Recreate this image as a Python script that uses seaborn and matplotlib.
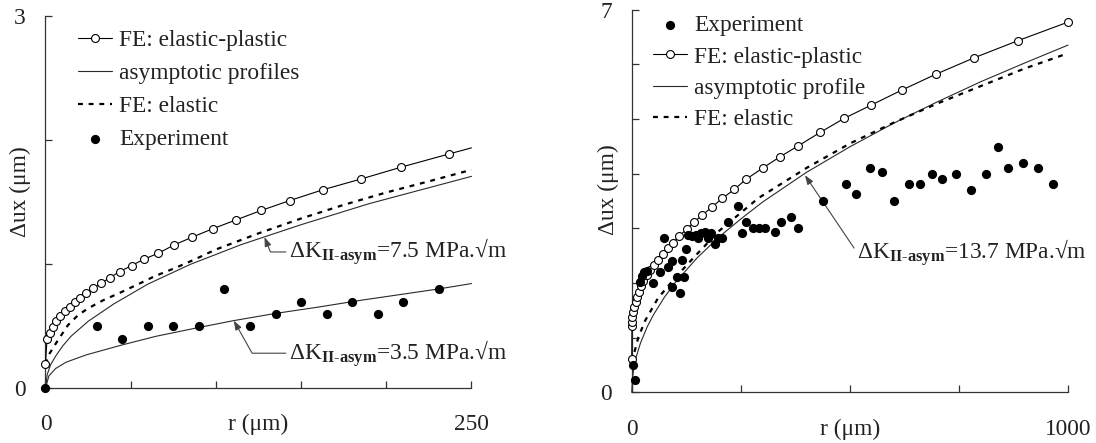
import matplotlib
matplotlib.use('Agg')
import matplotlib.pyplot as plt
import seaborn as sns

# ---------------- dados ----------------
# Painel esquerdo (r ate 250 um)
left_ep_r = [0, 0.9, 2.5, 4.4, 6.4, 8.7, 11.3, 14.2, 17.2, 20.5, 24, 27.9, 32.8, 37.8, 43.6, 50.5, 57.9,
             66.2, 75.6, 86.2, 98.1, 111.9, 126.6, 143.4, 162.8, 185, 208.9, 236.6, 250]
left_ep_u = [0.196, 0.396, 0.449, 0.498, 0.544, 0.584, 0.624, 0.659, 0.695, 0.732, 0.767, 0.808, 0.848,
             0.893, 0.942, 0.99, 1.042, 1.09, 1.157, 1.22, 1.287, 1.359, 1.435, 1.515, 1.602, 1.688,
             1.785, 1.89, 1.94]
left_el_r = [0, 2.5, 7.4, 13.2, 19.1, 25, 33.8, 43.6, 54.4, 64.2, 76, 86.8, 100, 125, 150, 175, 200, 225, 250]
left_el_u = [0.196, 0.283, 0.39, 0.51, 0.59, 0.645, 0.71, 0.77, 0.84, 0.905, 0.97, 1.035, 1.12, 1.25,
             1.37, 1.48, 1.58, 1.67, 1.763]
left_asym75_r = [0, 1, 3, 6, 10, 15, 25, 40, 60, 85, 115, 150, 190, 250]
left_asym75_u = [0, 0.11, 0.19, 0.26, 0.34, 0.42, 0.54, 0.68, 0.84, 1.0, 1.16, 1.32, 1.49, 1.71]
left_asym35_r = [0, 2, 6, 12, 24, 45, 65, 88, 110, 135, 160, 185, 210, 230, 250]
left_asym35_u = [0, 0.1, 0.16, 0.21, 0.27, 0.35, 0.42, 0.485, 0.545, 0.604, 0.655, 0.71, 0.76, 0.80, 0.845]
left_exp_r = [0, 30, 45, 60, 75, 90, 105, 120, 135, 150, 165, 180, 195, 210, 230.7]
left_exp_u = [0, 0.5, 0.4, 0.5, 0.5, 0.5, 0.8, 0.5, 0.6, 0.7, 0.6, 0.7, 0.6, 0.7, 0.8]

# Painel direito (r ate 1000 um)
right_ep_r = [0, 0.5, 1, 1.4, 3.7, 6, 9.9, 12.8, 16.7, 21.3, 26.6, 34.4, 42, 51.8, 61, 72.4, 82.5, 95.4,
              108.4, 126, 143.5, 161.8, 184.7, 207.7, 235.2, 262, 300, 340, 382, 432, 487, 549, 619, 698,
              785, 885, 1000]
right_ep_u = [0.603, 1.21, 1.29, 1.382, 1.474, 1.565, 1.657, 1.748, 1.84, 1.944, 2.04, 2.145, 2.236, 2.328,
              2.419, 2.529, 2.633, 2.736, 2.858, 2.98, 3.119, 3.242, 3.394, 3.547, 3.712, 3.895, 4.1, 4.308,
              4.509, 4.754, 5.01, 5.253, 5.527, 5.82, 6.118, 6.43, 6.77]
right_el_r = [0, 5, 15, 30, 60, 100, 145, 200, 290, 400, 500, 600, 700, 800, 900, 1000]
right_el_u = [0.55, 0.7, 1.0, 1.3, 1.72, 2.1, 2.49, 2.95, 3.55, 4.1, 4.55, 4.93, 5.28, 5.6, 5.92, 6.2]
right_asym_r = [0, 2, 5, 10, 20, 35, 50, 75, 100, 150, 200, 250, 300, 400, 500, 600, 700, 800, 900, 1000]
right_asym_u = [0, 0.28, 0.45, 0.64, 0.9, 1.19, 1.42, 1.74, 2.01, 2.46, 2.84, 3.17, 3.48, 4.02, 4.49,
                4.92, 5.31, 5.68, 6.02, 6.35]
right_exp_r = [4, 7, 19, 24, 28, 34, 49.5, 65, 74.7, 84, 92, 92, 103, 110.7, 114.6, 120.6, 124.5, 128,
               137.5, 146.7, 151, 159, 168, 175.6, 182, 191, 198.5, 206, 221, 243, 253, 263, 278, 292, 306,
               328.5, 341, 366, 382, 438, 491, 515, 546, 573, 601, 636, 661, 688, 712, 743, 778, 812, 840,
               862, 896, 930, 965]
right_exp_u = [0.5, 0.22, 2.02, 2.12, 2.2, 2.22, 2.0, 2.2, 2.82, 2.3, 1.93, 2.4, 2.11, 1.81, 2.42, 2.11,
               2.62, 2.88, 2.86, 2.88, 2.82, 2.91, 2.94, 2.83, 2.91, 2.72, 2.83, 2.82, 3.12, 3.41, 2.92, 3.12,
               3.0, 3.0, 3.0, 2.93, 3.12, 3.21, 3.0, 3.5, 3.81, 3.62, 4.11, 4.02, 3.5, 3.81, 3.81, 4.0, 3.9,
               4.0, 3.7, 4.0, 4.49, 4.1, 4.2, 4.1, 3.81]

left_xticks = [0, 50, 100, 150, 200, 250]
left_yticks = [0, 1, 2, 3]
right_xticks = [0, 250, 500, 750, 1000]
right_yticks = [0, 1, 2, 3, 4, 5, 6, 7]

xlabel = 'r (\u03bcm)'
ylabel = '\u0394ux (\u03bcm)'
ann_75 = '\u0394K$_{\\mathbf{II\\text{-}asym}}$=7.5 MPa.\u221am'
ann_35 = '\u0394K$_{\\mathbf{II\\text{-}asym}}$=3.5 MPa.\u221am'
ann_137 = '\u0394K$_{\\mathbf{II\\text{-}asym}}$=13.7 MPa.\u221am'

# ---------------- estilo ----------------
sns.set_style('ticks')
plt.rcParams['font.family'] = ['Liberation Serif', 'DejaVu Serif']
plt.rcParams['mathtext.fontset'] = 'custom'
plt.rcParams['mathtext.rm'] = 'Liberation Serif'
plt.rcParams['mathtext.it'] = 'Liberation Serif:italic'
plt.rcParams['mathtext.bf'] = 'Liberation Serif:bold'
FS = 16.8
INK = '#222222'

fig = plt.figure(figsize=(10.96, 4.43), dpi=100)
ax1 = fig.add_axes([0.0415, 0.1235, 0.3887, 0.8393])
ax2 = fig.add_axes([0.5764, 0.1144, 0.3981, 0.8641])


def style_axis(ax, xticks, yticks, xpad, label_y, ylab_x):
    ax.set_xlim(xticks[0], xticks[-1])
    ax.set_ylim(yticks[0], yticks[-1])
    ax.set_xticks(xticks, labels=[str(t) if t in (xticks[0], xticks[-1]) else '' for t in xticks])
    ax.set_yticks(yticks, labels=[str(t) if t in (yticks[0], yticks[-1]) else '' for t in yticks])
    for side in ['top', 'right']:
        ax.spines[side].set_visible(False)
    for side in ['left', 'bottom']:
        ax.spines[side].set_color('#333333')
        ax.spines[side].set_linewidth(0.9)
    ax.tick_params(axis='both', direction='in', length=5, width=0.9, color='#333333',
                   labelsize=FS, labelcolor=INK)
    ax.tick_params(axis='x', pad=xpad)
    ax.tick_params(axis='y', pad=14.4)
    ax.set_xlabel(xlabel, fontsize=FS, color=INK, va='baseline')
    ax.xaxis.set_label_coords(0.5, label_y)
    ax.set_ylabel(ylabel, fontsize=FS, color=INK, va='center')
    ax.yaxis.set_label_coords(ylab_x, 0.53)
    ax.set_facecolor('white')


def draw_ep(ax, r, u, label, markevery=None):
    sns.lineplot(x=r, y=u, ax=ax, color='black', lw=0.8, marker='o', ms=5.7, mfc='white', mec='black',
                 mew=0.8, estimator=None, sort=False, label=label, markevery=markevery, clip_on=False,
                 zorder=3)


def draw_el(ax, r, u, label):
    sns.lineplot(x=r, y=u, ax=ax, color='black', lw=1.6, ls=(0, (2.2, 2.6)), estimator=None, sort=False,
                 label=label, clip_on=False, zorder=2)


def draw_asym(ax, r, u, label):
    sns.lineplot(x=r, y=u, ax=ax, color='#2a2a2a', lw=0.8, estimator=None, sort=False, label=label,
                 clip_on=False, zorder=2)


def draw_exp(ax, r, u, label):
    sns.scatterplot(x=r, y=u, ax=ax, color='black', s=44, linewidth=0, label=label, clip_on=False, zorder=5)


arrow_kw = dict(arrowstyle='-|>,head_length=0.55,head_width=0.2', color='#444444', lw=0.8,
                shrinkA=0, shrinkB=0, relpos=(0, 0.5), mutation_scale=10)

# ---------------- painel esquerdo ----------------
draw_ep(ax1, left_ep_r, left_ep_u, 'FE: elastic-plastic', markevery=list(range(len(left_ep_r) - 1)))
draw_asym(ax1, left_asym75_r, left_asym75_u, 'asymptotic profiles')
draw_asym(ax1, left_asym35_r, left_asym35_u, None)
draw_el(ax1, left_el_r, left_el_u, 'FE: elastic')
draw_exp(ax1, left_exp_r, left_exp_u, 'Experiment')
style_axis(ax1, left_xticks, left_yticks, 18.5, -0.111, -0.06)

ax1.annotate(ann_75, xy=(128.5, 1.22), xytext=(143, 1.10), ha='left', va='center', fontsize=FS,
             color=INK, arrowprops=dict(connectionstyle='angle,angleA=0,angleB=112,rad=0', **arrow_kw))
ax1.annotate(ann_35, xy=(110.5, 0.546), xytext=(143, 0.283), ha='left', va='center', fontsize=FS,
             color=INK, arrowprops=dict(connectionstyle='angle,angleA=0,angleB=119.4,rad=0', **arrow_kw))

h, l = ax1.get_legend_handles_labels()
order = ['FE: elastic-plastic', 'asymptotic profiles', 'FE: elastic', 'Experiment']
ax1.legend([h[l.index(k)] for k in order], order, loc='upper left', bbox_to_anchor=(0.077, 0.964),
           frameon=False, fontsize=FS, handlelength=1.45, handletextpad=0.3, labelspacing=0.5,
           borderpad=0, borderaxespad=0, scatterpoints=1, numpoints=1, labelcolor=INK)

# ---------------- painel direito ----------------
draw_exp(ax2, right_exp_r, right_exp_u, 'Experiment')
draw_ep(ax2, right_ep_r, right_ep_u, 'FE: elastic-plastic')
draw_asym(ax2, right_asym_r, right_asym_u, 'asymptotic profile')
draw_el(ax2, right_el_r, right_el_u, 'FE: elastic')
style_axis(ax2, right_xticks, right_yticks, 19.4, -0.1115, -0.054)

ax2.annotate(ann_137, xy=(397, 3.97), xytext=(517, 2.55), ha='left', va='center', fontsize=FS,
             color=INK, arrowprops=dict(connectionstyle='arc3', **arrow_kw))

h, l = ax2.get_legend_handles_labels()
order = ['Experiment', 'FE: elastic-plastic', 'asymptotic profile', 'FE: elastic']
ax2.legend([h[l.index(k)] for k in order], order, loc='upper left', bbox_to_anchor=(0.049, 0.9855),
           frameon=False, fontsize=FS, handlelength=1.45, handletextpad=0.3, labelspacing=0.42,
           borderpad=0, borderaxespad=0, scatterpoints=1, numpoints=1, labelcolor=INK)

fig.savefig('out.png', dpi=100, facecolor='white')
